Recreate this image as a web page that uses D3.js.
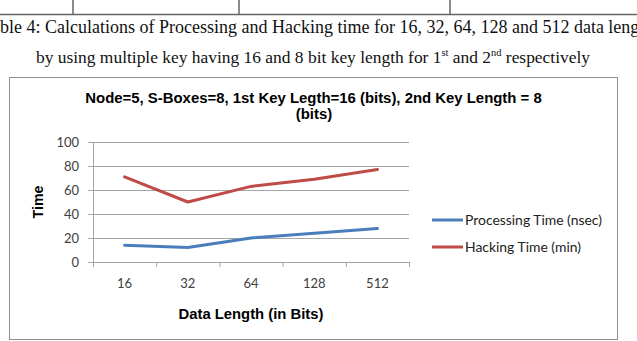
<!DOCTYPE html>
<html>
<head>
<meta charset="utf-8">
<script src="https://cdn.jsdelivr.net/npm/d3@7"></script>
<style>
  html, body { margin: 0; padding: 0; background: #fff; }
  svg { display: block; }
</style>
</head>
<body>
<script>
// chart data
const categories = ["16", "32", "64", "128", "512"];
const processingTime = [14, 12, 20, 24, 28];
const hackingTime = [71, 50, 63, 69, 77];
const yTicks = [0, 20, 40, 60, 80, 100];
const seriesNames = ["Processing Time (nsec)", "Hacking Time (min)"];
const seriesColors = ["#4a7ebb", "#be4b48"];

const W = 637, H = 341;
const svg = d3.select("body").append("svg")
  .attr("width", W).attr("height", H);

const serif = "'Liberation Serif', 'Times New Roman', serif";
const sans = "'Liberation Sans', Arial, sans-serif";
const body = "Lato, 'Open Sans', sans-serif";

// pick a font size so a string comes out at the width seen in the picture
function fitSize(str, family, weight, width) {
  const t = svg.append("text").attr("font-family", family)
    .attr("font-weight", weight).attr("font-size", 20).text(str);
  const w = t.node().getComputedTextLength();
  t.remove();
  return 20 * width / w;
}
function textWidth(str, family, size) {
  const t = svg.append("text").attr("font-family", family).attr("font-size", size).text(str);
  const w = t.node().getComputedTextLength();
  t.remove();
  return w;
}

// bottom of the table above the caption
const table = svg.append("g").attr("stroke", "#666").attr("stroke-width", 1.5);
table.append("line").attr("x1", 0).attr("x2", W).attr("y1", 14.5).attr("y2", 14.5);
[73, 239, 450].forEach(xv => {
  table.append("line").attr("x1", xv).attr("x2", xv).attr("y1", 0).attr("y2", 14.5);
});

// caption; the first line runs past both edges of the page
const cap1Size = fitSize("ble 4: Calculations of Processing and Hacking time for 16, 32, 64, 128 and 512 data leng",
  serif, "normal", 640);
svg.append("text")
  .attr("x", -textWidth("Ta", serif, cap1Size)).attr("y", 33)
  .attr("font-family", serif).attr("font-size", cap1Size).attr("fill", "#111")
  .text("Table 4: Calculations of Processing and Hacking time for 16, 32, 64, 128 and 512 data length");

const capSize = fitSize("by using multiple key having 16 and 8 bit key length for 1st and 2nd respectively",
  serif, "normal", 566);
const cap2 = svg.append("text")
  .attr("x", 313).attr("y", 63).attr("text-anchor", "middle")
  .attr("font-family", serif).attr("font-size", capSize).attr("fill", "#111");
cap2.append("tspan").text("by using multiple key having 16 and 8 bit key length for 1");
cap2.append("tspan").attr("font-size", capSize * 0.6).attr("dy", -7).text("st");
cap2.append("tspan").attr("dy", 7).text(" and 2");
cap2.append("tspan").attr("font-size", capSize * 0.6).attr("dy", -7).text("nd");
cap2.append("tspan").attr("dy", 7).text(" respectively");

// chart frame
svg.append("rect")
  .attr("x", 9.5).attr("y", 77.5).attr("width", 608).attr("height", 262)
  .attr("fill", "none").attr("stroke", "#8e8e8e").attr("stroke-width", 1);

// title
const titleLine1 = "Node=5, S-Boxes=8, 1st Key Legth=16 (bits), 2nd Key Length = 8";
const titleSize = fitSize(titleLine1, sans, "bold", 457);
const title = svg.append("text")
  .attr("text-anchor", "middle").attr("font-family", sans)
  .attr("font-weight", "bold").attr("font-size", titleSize).attr("fill", "#000");
title.append("tspan").attr("x", 313.5).attr("y", 103).text(titleLine1);
title.append("tspan").attr("x", 314).attr("y", 119).text("(bits)");

// scales
const x = d3.scaleBand().domain(categories).range([93, 409]);
const y = d3.scaleLinear().domain([0, 100]).range([262, 142]);

// gridlines
svg.append("g")
  .attr("transform", "translate(93,0)")
  .call(d3.axisLeft(y).tickValues(yTicks.slice(1)).tickSize(-316).tickFormat(""))
  .call(g => g.select(".domain").remove())
  .call(g => g.selectAll("line").attr("stroke", "#a6a6a6"));

// y axis
svg.append("g")
  .attr("transform", "translate(93,0)")
  .call(d3.axisLeft(y).tickValues(yTicks).tickSize(5).tickPadding(9))
  .call(g => g.select(".domain").attr("stroke", "#a6a6a6"))
  .call(g => g.selectAll("line").attr("stroke", "#a6a6a6"))
  .call(g => g.selectAll("text").attr("font-family", body).attr("font-size", 13).attr("fill", "#404040"));

// x axis: labels at band centres, ticks on band edges
svg.append("g")
  .attr("transform", "translate(0,262)")
  .call(d3.axisBottom(x).tickSize(0).tickPadding(17))
  .call(g => g.select(".domain").attr("stroke", "#a6a6a6").attr("d", "M93,0.5H409"))
  .call(g => g.selectAll("text").attr("font-family", body).attr("font-size", 13).attr("fill", "#404040"));

const edges = categories.map(c => x(c)).concat([x.range()[1]]);
svg.append("g").selectAll("line").data(edges).join("line")
  .attr("x1", d => d + 0.5).attr("x2", d => d + 0.5)
  .attr("y1", 262).attr("y2", 267)
  .attr("stroke", "#a6a6a6");

// axis titles
svg.append("text")
  .attr("x", 251).attr("y", 319).attr("text-anchor", "middle")
  .attr("font-family", sans).attr("font-weight", "bold")
  .attr("font-size", fitSize("Data Length (in Bits)", sans, "bold", 145))
  .text("Data Length (in Bits)");
svg.append("text")
  .attr("transform", "translate(43,202) rotate(-90)").attr("text-anchor", "middle")
  .attr("font-family", sans).attr("font-weight", "bold")
  .attr("font-size", fitSize("Time", sans, "bold", 33))
  .text("Time");

// lines
const line = d3.line()
  .x((d, i) => x(categories[i]) + x.bandwidth() / 2)
  .y(d => y(d));

[processingTime, hackingTime].forEach((s, i) => {
  svg.append("path")
    .datum(s)
    .attr("d", line)
    .attr("fill", "none")
    .attr("stroke", seriesColors[i])
    .attr("stroke-width", 3)
    .attr("stroke-linejoin", "round")
    .attr("stroke-linecap", "round");
});

// legend
const legendSize = fitSize(seriesNames[0], body, "normal", 137);
const legend = svg.append("g");
seriesNames.forEach((name, i) => {
  const ly = 220 + i * 27;
  legend.append("line")
    .attr("x1", 432).attr("x2", 463).attr("y1", ly).attr("y2", ly)
    .attr("stroke", seriesColors[i]).attr("stroke-width", 3);
  legend.append("text")
    .attr("x", 465).attr("y", ly).attr("dy", "0.35em")
    .attr("font-family", body).attr("font-size", legendSize).attr("fill", "#222")
    .text(name);
});
</script>
</body>
</html>
